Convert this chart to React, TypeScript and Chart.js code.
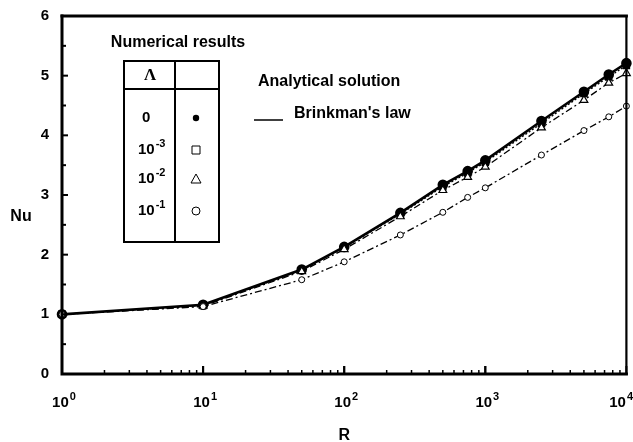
import React, { useEffect, useRef } from "react";
import { Chart, registerables } from "chart.js";
Chart.register(...registerables);

// ---- data ----
const R = [1, 10, 50, 100, 250, 500, 750, 1000, 2500, 5000, 7500, 10000];
const nuLambda0 = [1.0, 1.16, 1.75, 2.13, 2.7, 3.17, 3.4, 3.58, 4.24, 4.73, 5.02, 5.21];
const nuLambda1e3 = [1.0, 1.15, 1.74, 2.12, 2.68, 3.14, 3.37, 3.55, 4.2, 4.7, 4.98, 5.17];
const nuLambda1e2 = [1.0, 1.14, 1.72, 2.09, 2.64, 3.08, 3.3, 3.47, 4.13, 4.59, 4.88, 5.04];
const nuLambda1e1 = [1.0, 1.13, 1.58, 1.88, 2.33, 2.71, 2.96, 3.12, 3.67, 4.08, 4.31, 4.49];
const yTickValues = [0, 1, 2, 3, 4, 5, 6];
const xTickExponents = [0, 1, 2, 3, 4];
const legendLambdaBase = ["0", "10", "10", "10"];
const legendLambdaExp = ["", "-3", "-2", "-1"];
const legendMarkers = ["filled", "square", "triangle", "circle"];

const FONT = '"Liberation Sans", Arial, Helvetica, sans-serif';

function toPts(vals: number[]) {
  return R.map((r, i) => ({ x: r, y: vals[i] }));
}

function supWidth(ctx: CanvasRenderingContext2D, base: string, exp: string, baseSize: number, expSize: number) {
  ctx.font = `bold ${baseSize}px ${FONT}`;
  const wb = ctx.measureText(base).width;
  ctx.font = `bold ${expSize}px ${FONT}`;
  const we = exp ? ctx.measureText(exp).width : 0;
  return { wb, total: wb + we + (exp ? 1 : 0) };
}

function drawSup(ctx: CanvasRenderingContext2D, base: string, exp: string, x: number, y: number, baseSize: number, expSize: number, align: "center" | "left") {
  const { wb, total } = supWidth(ctx, base, exp, baseSize, expSize);
  const x0 = align === "center" ? x - total / 2 : x;
  ctx.textAlign = "left";
  ctx.textBaseline = "middle";
  ctx.font = `bold ${baseSize}px ${FONT}`;
  ctx.fillText(base, x0, y);
  if (exp) {
    ctx.font = `bold ${expSize}px ${FONT}`;
    ctx.fillText(exp, x0 + wb + 1, y - baseSize * 0.42);
  }
}

function drawMarker(ctx: CanvasRenderingContext2D, kind: string, x: number, y: number) {
  ctx.save();
  ctx.strokeStyle = "#000";
  ctx.fillStyle = "#000";
  ctx.lineWidth = 1;
  ctx.beginPath();
  if (kind === "filled") {
    ctx.arc(x, y, 3.2, 0, Math.PI * 2);
    ctx.fill();
  } else if (kind === "square") {
    ctx.rect(x - 4, y - 4, 8, 8);
    ctx.stroke();
  } else if (kind === "triangle") {
    ctx.moveTo(x, y - 5);
    ctx.lineTo(x + 5, y + 4);
    ctx.lineTo(x - 5, y + 4);
    ctx.closePath();
    ctx.stroke();
  } else {
    ctx.arc(x, y, 4, 0, Math.PI * 2);
    ctx.stroke();
  }
  ctx.restore();
}

const decorPlugin = {
  id: "decor",
  afterDatasetsDraw(chart: any) {
    const ctx: CanvasRenderingContext2D = chart.ctx;
    const { left, right, top, bottom } = chart.chartArea;
    const xs = chart.scales.x;
    const ys = chart.scales.y;
    ctx.save();
    ctx.strokeStyle = "#000";
    ctx.fillStyle = "#000";
    ctx.lineCap = "square";

    // frame
    ctx.lineWidth = 3;
    ctx.beginPath();
    ctx.moveTo(left, top);
    ctx.lineTo(right, top);
    ctx.stroke();
    ctx.lineWidth = 2.2;
    ctx.beginPath();
    ctx.moveTo(right, top);
    ctx.lineTo(right, bottom);
    ctx.stroke();
    ctx.lineWidth = 3;
    ctx.beginPath();
    ctx.moveTo(left, top);
    ctx.lineTo(left, bottom);
    ctx.lineTo(right, bottom);
    ctx.stroke();

    // y ticks (inward)
    ctx.lineWidth = 2;
    ctx.lineCap = "butt";
    for (let v = 0; v <= 6; v += 0.5) {
      const py = ys.getPixelForValue(v);
      const len = Number.isInteger(v) ? 6 : 4;
      ctx.beginPath();
      ctx.moveTo(left, py);
      ctx.lineTo(left + len, py);
      ctx.stroke();
    }
    // x ticks (inward)
    for (let e = 0; e < 4; e++) {
      for (let m = 1; m <= 10; m++) {
        const v = m * Math.pow(10, e);
        const px = xs.getPixelForValue(v);
        const major = m === 1 || m === 10;
        ctx.lineWidth = major ? 2 : 1.5;
        ctx.beginPath();
        ctx.moveTo(px, bottom);
        ctx.lineTo(px, bottom - (major ? 8 : 4));
        ctx.stroke();
      }
    }

    // y tick labels
    ctx.font = `bold 15px ${FONT}`;
    ctx.textAlign = "right";
    ctx.textBaseline = "middle";
    yTickValues.forEach((v) => {
      ctx.fillText(String(v), left - 13, ys.getPixelForValue(v));
    });
    // x tick labels
    xTickExponents.forEach((e) => {
      const px = xs.getPixelForValue(Math.pow(10, e));
      const { total } = supWidth(ctx, "10", String(e), 15, 11);
      const cx = Math.min(px + 2, chart.width - total / 2);
      drawSup(ctx, "10", String(e), cx, bottom + 29, 15, 11, "center");
    });

    // axis titles
    ctx.font = `bold 16px ${FONT}`;
    ctx.textAlign = "center";
    ctx.textBaseline = "middle";
    ctx.fillText("Nu", 21, 217);
    ctx.fillText("R", (left + right) / 2, 436);

    // legend: numerical results table
    ctx.font = `bold 16px ${FONT}`;
    ctx.textAlign = "center";
    ctx.fillText("Numerical results", 178, 43);
    ctx.lineWidth = 2;
    ctx.strokeRect(124, 61, 95, 181);
    ctx.beginPath();
    ctx.moveTo(175, 61);
    ctx.lineTo(175, 242);
    ctx.moveTo(124, 89);
    ctx.lineTo(219, 89);
    ctx.stroke();
    ctx.font = `bold 17px "Liberation Serif", serif`;
    ctx.textAlign = "center";
    ctx.fillText("\u039B", 150, 76);
    const rowY = [118, 150, 179, 211];
    rowY.forEach((y, i) => {
      const base = legendLambdaBase[i];
      const exp = legendLambdaExp[i];
      drawSup(ctx, base, exp, exp ? 138 : 142, y, 15, 11, "left");
      drawMarker(ctx, legendMarkers[i], 196, y);
    });

    // legend: analytical
    ctx.font = `bold 16px ${FONT}`;
    ctx.textAlign = "left";
    ctx.textBaseline = "middle";
    ctx.fillText("Analytical solution", 258, 82);
    ctx.fillText("Brinkman's law", 294, 114);
    ctx.lineWidth = 1.5;
    ctx.beginPath();
    ctx.moveTo(254, 120);
    ctx.lineTo(283, 120);
    ctx.stroke();

    ctx.restore();
  },
};

export default function App() {
  const ref = useRef<HTMLCanvasElement | null>(null);
  useEffect(() => {
    if (!ref.current) return;
    const dashDot = [7, 3, 2, 3];
    const chart = new Chart(ref.current, {
      type: "line",
      data: {
        datasets: [
          {
            label: "Λ = 10^-1",
            data: toPts(nuLambda1e1),
            borderColor: "#000",
            borderWidth: 1.3,
            borderDash: dashDot,
            pointStyle: "circle",
            pointRadius: 3,
            pointBackgroundColor: "#fff",
            pointBorderColor: "#000",
            pointBorderWidth: 1,
            clip: false as any,
          },
          {
            label: "Λ = 10^-2",
            data: toPts(nuLambda1e2),
            borderColor: "#000",
            borderWidth: 1.3,
            borderDash: dashDot,
            pointStyle: "triangle",
            pointRadius: 4.5,
            pointBackgroundColor: "#fff",
            pointBorderColor: "#000",
            pointBorderWidth: 1.2,
            clip: false as any,
          },
          {
            label: "Λ = 10^-3",
            data: toPts(nuLambda1e3),
            borderColor: "#000",
            borderWidth: 1.3,
            borderDash: [2, 2],
            pointStyle: "rect",
            pointRadius: 4.5,
            pointBackgroundColor: "#000",
            pointBorderColor: "#000",
            pointBorderWidth: 1.2,
            clip: false as any,
          },
          {
            label: "Λ = 0 (Brinkman's law)",
            data: toPts(nuLambda0),
            borderColor: "#000",
            borderWidth: 2.6,
            pointStyle: "circle",
            pointRadius: 4,
            pointBackgroundColor: "#000",
            pointBorderColor: "#000",
            clip: false as any,
          },
        ],
      },
      options: {
        animation: false,
        responsive: false,
        maintainAspectRatio: false,
        layout: { padding: { left: 62, right: 6, top: 16, bottom: 68 } },
        plugins: { legend: { display: false }, tooltip: { enabled: false } },
        elements: { line: { tension: 0 } },
        scales: {
          x: { type: "logarithmic", min: 1, max: 10000, display: false },
          y: { type: "linear", min: 0, max: 6, display: false },
        },
      },
      plugins: [decorPlugin],
    });
    return () => chart.destroy();
  }, []);
  return (
    <div style={{ position: "fixed", left: 0, top: 0, width: 633, height: 442, background: "#fff" }}>
      <canvas ref={ref} width={633} height={442} style={{ width: 633, height: 442, display: "block" }} />
    </div>
  );
}
